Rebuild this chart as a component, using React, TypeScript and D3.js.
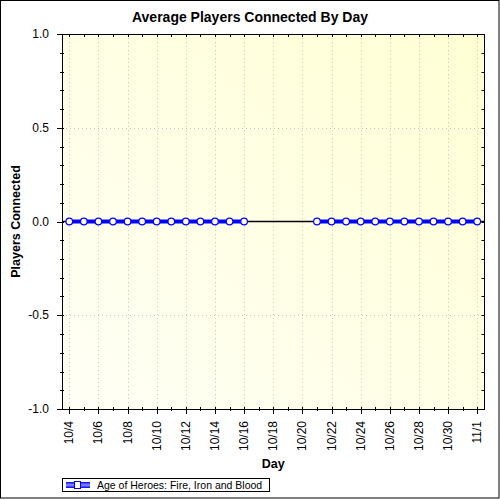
import { useEffect, useRef } from 'react';
import * as d3 from 'd3';

// days shown on the x axis (year is not shown in the chart)
const days = [
  '2011-10-04', '2011-10-05', '2011-10-06', '2011-10-07', '2011-10-08', '2011-10-09', '2011-10-10',
  '2011-10-11', '2011-10-12', '2011-10-13', '2011-10-14', '2011-10-15', '2011-10-16', '2011-10-17',
  '2011-10-18', '2011-10-19', '2011-10-20', '2011-10-21', '2011-10-22', '2011-10-23', '2011-10-24',
  '2011-10-25', '2011-10-26', '2011-10-27', '2011-10-28', '2011-10-29', '2011-10-30', '2011-10-31',
  '2011-11-01',
];

// average players per day; null = no data for that day
const players: (number | null)[] = [
  0, 0, 0, 0, 0, 0, 0,
  0, 0, 0, 0, 0, 0, null,
  null, null, null, 0, 0, 0, 0,
  0, 0, 0, 0, 0, 0, 0,
  0,
];

const yTicks = [-1, -0.5, 0, 0.5, 1];
const yGrid = [-0.5, 0.5];
const seriesName = 'Age of Heroes: Fire, Iron and Blood';

export default function App() {
  const svgRef = useRef<SVGSVGElement | null>(null);

  useEffect(() => {
    if (!svgRef.current) return;
    const width = 500;
    const height = 500;
    const plot = { left: 62, right: 484.5, top: 34, bottom: 409 };
    const font = 'Arial, "Liberation Sans", sans-serif';

    const svg = d3.select(svgRef.current);
    svg.selectAll('*').remove();
    svg.attr('width', width).attr('height', height);

    const parse = d3.timeParse('%Y-%m-%d');
    const data = days.map((d, i) => ({ date: parse(d)!, value: players[i] }));

    const x = d3
      .scaleTime()
      .domain([d3.timeHour.offset(data[0].date, -12), d3.timeHour.offset(data[data.length - 1].date, 12)])
      .range([plot.left, plot.right]);
    const y = d3.scaleLinear().domain([-1, 1]).range([plot.bottom, plot.top]);

    const defs = svg.append('defs');
    const bg = defs.append('linearGradient').attr('id', 'plotBg').attr('x1', 0).attr('y1', 1).attr('x2', 1).attr('y2', 0);
    bg.append('stop').attr('offset', '0%').attr('stop-color', '#fffff6');
    bg.append('stop').attr('offset', '100%').attr('stop-color', '#ffffd4');
    const lg = defs.append('linearGradient').attr('id', 'legendLine').attr('x1', 0).attr('y1', 0).attr('x2', 0).attr('y2', 1);
    lg.append('stop').attr('offset', '0%').attr('stop-color', '#0000ff');
    lg.append('stop').attr('offset', '50%').attr('stop-color', '#9090ff');
    lg.append('stop').attr('offset', '100%').attr('stop-color', '#0000ff');

    // page background + outer frame
    svg.append('rect').attr('x', 0).attr('y', 0).attr('width', width).attr('height', height).attr('fill', '#fff');
    svg.append('rect')
      .attr('x', 0.5).attr('y', 0.5).attr('width', 498.5).attr('height', 497.5)
      .attr('fill', 'none').attr('stroke', '#000');

    // plot background
    svg.append('rect')
      .attr('x', plot.left).attr('y', plot.top)
      .attr('width', plot.right - plot.left).attr('height', plot.bottom - plot.top)
      .attr('fill', 'url(#plotBg)');

    const majorDates = data.filter((_, i) => i % 2 === 0).map((d) => d.date);
    const minorDates = data.map((d) => d.date);
    const minorY = d3.range(-10, 11).map((v) => v / 10);

    // grid
    svg.append('g').selectAll('line').data(majorDates).enter().append('line')
      .attr('x1', (d) => Math.round(x(d)) + 0.5).attr('x2', (d) => Math.round(x(d)) + 0.5)
      .attr('y1', plot.top).attr('y2', plot.bottom)
      .attr('stroke', '#c8c8c8').attr('stroke-dasharray', '1,3');
    svg.append('g').selectAll('line').data(yGrid).enter().append('line')
      .attr('x1', plot.left).attr('x2', plot.right)
      .attr('y1', (d) => Math.round(y(d)) + 0.5).attr('y2', (d) => Math.round(y(d)) + 0.5)
      .attr('stroke', '#c8c8c8').attr('stroke-dasharray', '1,3');

    // zero line
    svg.append('line')
      .attr('x1', plot.left).attr('x2', plot.right)
      .attr('y1', y(0)).attr('y2', y(0))
      .attr('stroke', '#000').attr('stroke-width', 1.5);

    // frame
    svg.append('rect')
      .attr('x', plot.left + 0.5).attr('y', plot.top + 0.5)
      .attr('width', plot.right - plot.left - 0.5).attr('height', plot.bottom - plot.top)
      .attr('fill', 'none').attr('stroke', '#000');

    const ticks = svg.append('g').attr('stroke', '#000');
    // left ticks
    ticks.selectAll('.ly').data(minorY).enter().append('line')
      .attr('x1', (d) => (yTicks.includes(d) ? plot.left - 5 : plot.left - 2)).attr('x2', plot.left + 2)
      .attr('y1', (d) => Math.round(y(d)) + 0.5).attr('y2', (d) => Math.round(y(d)) + 0.5);
    // right ticks
    ticks.selectAll('.ry').data(minorY).enter().append('line')
      .attr('x1', plot.right - 3).attr('x2', plot.right)
      .attr('y1', (d) => Math.round(y(d)) + 0.5).attr('y2', (d) => Math.round(y(d)) + 0.5);
    // bottom ticks
    ticks.selectAll('.bx').data(minorDates).enter().append('line')
      .attr('x1', (d) => Math.round(x(d)) + 0.5).attr('x2', (d) => Math.round(x(d)) + 0.5)
      .attr('y1', plot.bottom - 2)
      .attr('y2', (d, i) => (i % 2 === 0 ? plot.bottom + 5 : plot.bottom + 2));
    // top ticks
    ticks.selectAll('.tx').data(minorDates).enter().append('line')
      .attr('x1', (d) => Math.round(x(d)) + 0.5).attr('x2', (d) => Math.round(x(d)) + 0.5)
      .attr('y1', plot.top).attr('y2', plot.top + 3);

    // y tick labels (plain hyphen for negatives)
    svg.append('g').selectAll('text').data(yTicks).enter().append('text')
      .attr('x', 49).attr('y', (d) => y(d))
      .attr('dy', '0.35em')
      .attr('text-anchor', 'end')
      .attr('font-family', font).attr('font-size', 12).attr('fill', '#000')
      .text((d) => d.toFixed(1));

    // x tick labels
    const fmt = d3.timeFormat('%-m/%-d');
    svg.append('g').selectAll('text').data(majorDates).enter().append('text')
      .attr('transform', (d) => `translate(${x(d) + 4},421) rotate(-90)`)
      .attr('text-anchor', 'end')
      .attr('font-family', font).attr('font-size', 12).attr('fill', '#000')
      .text((d) => fmt(d));

    // series line
    const line = d3.line<(typeof data)[0]>()
      .defined((d) => d.value != null)
      .x((d) => x(d.date))
      .y((d) => y(d.value as number));
    svg.append('path').datum(data)
      .attr('fill', 'none').attr('stroke', '#0000ff').attr('stroke-width', 4)
      .attr('d', line);
    svg.append('g').selectAll('circle').data(data.filter((d) => d.value != null)).enter().append('circle')
      .attr('cx', (d) => x(d.date)).attr('cy', (d) => y(d.value as number))
      .attr('r', 3.3)
      .attr('fill', '#fff').attr('stroke', '#0000ff').attr('stroke-width', 1.2);

    // titles
    svg.append('text')
      .attr('x', 250).attr('y', 22).attr('text-anchor', 'middle')
      .attr('font-family', font).attr('font-size', 14).attr('font-weight', 'bold')
      .text('Average Players Connected By Day');
    svg.append('text')
      .attr('x', (plot.left + plot.right) / 2).attr('y', 468).attr('text-anchor', 'middle')
      .attr('font-family', font).attr('font-size', 12.5).attr('font-weight', 'bold')
      .text('Day');
    svg.append('text')
      .attr('transform', `translate(20,${(plot.top + plot.bottom) / 2}) rotate(-90)`)
      .attr('text-anchor', 'middle')
      .attr('font-family', font).attr('font-size', 12.5).attr('font-weight', 'bold')
      .text('Players Connected');

    // legend
    const legend = svg.append('g');
    legend.append('rect')
      .attr('x', 62.5).attr('y', 478.5).attr('width', 207).attr('height', 13)
      .attr('fill', '#fff').attr('stroke', '#000');
    legend.append('rect')
      .attr('x', 66).attr('y', 482).attr('width', 24).attr('height', 6)
      .attr('fill', 'url(#legendLine)');
    legend.append('rect')
      .attr('x', 74.5).attr('y', 481.5).attr('width', 6).attr('height', 7)
      .attr('fill', '#fff').attr('stroke', '#0000ff');
    legend.append('text')
      .attr('x', 97).attr('y', 489)
      .attr('font-family', font).attr('font-size', 10.5).attr('fill', '#000')
      .text(seriesName);
  }, []);

  return (
    <div style={{ position: 'fixed', left: 0, top: 0, width: 500, height: 500 }}>
      <svg ref={svgRef} style={{ display: 'block' }} />
    </div>
  );
}
